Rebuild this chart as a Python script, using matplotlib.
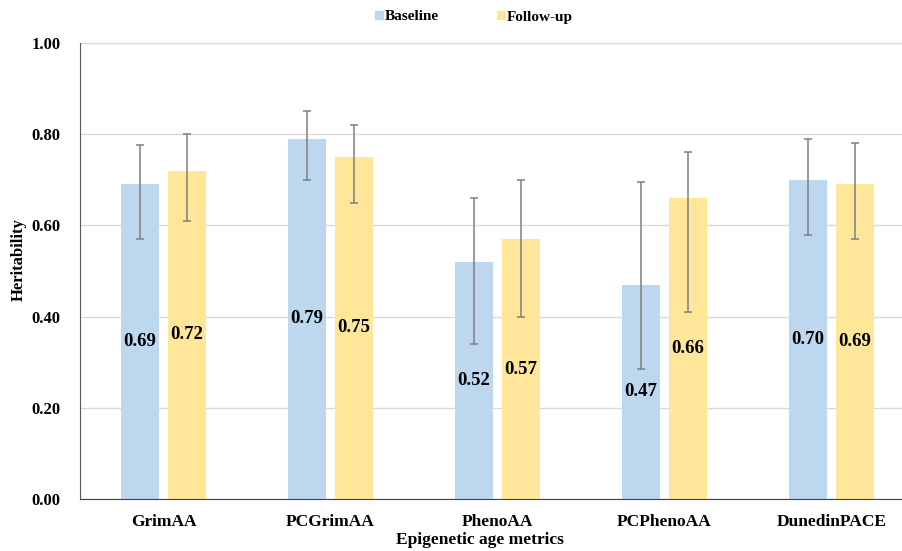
import matplotlib.pyplot as plt
import numpy as np
from matplotlib.patches import Patch

plt.rcParams["font.family"] = ["Liberation Serif", "DejaVu Serif"]
plt.rcParams["font.weight"] = "bold"

# Data
metrics = ["GrimAA", "PCGrimAA", "PhenoAA", "PCPhenoAA", "DunedinPACE"]
baseline = [0.69, 0.79, 0.52, 0.47, 0.70]
baseline_lo = [0.57, 0.70, 0.34, 0.285, 0.58]
baseline_hi = [0.777, 0.851, 0.66, 0.696, 0.79]
followup = [0.72, 0.75, 0.57, 0.66, 0.69]
followup_lo = [0.61, 0.65, 0.40, 0.41, 0.57]
followup_hi = [0.80, 0.82, 0.70, 0.76, 0.78]
yticks = [0.0, 0.2, 0.4, 0.6, 0.8, 1.0]

blue = "#BDD7EE"
yellow = "#FFE699"
err_color = "#7f7f7f"

fig = plt.figure(figsize=(9.03, 5.51), dpi=100)
# axes runs slightly past the right edge, like the cropped original
ax = fig.add_axes([80 / 903, 52 / 551, 835 / 903, 456 / 551])

x = np.arange(len(metrics))
width = 0.228
offset = 0.141

series = [
    (baseline, baseline_lo, baseline_hi, blue, -offset),
    (followup, followup_lo, followup_hi, yellow, offset),
]
for vals, lo, hi, color, dx in series:
    vals = np.array(vals)
    yerr = [vals - np.array(lo), np.array(hi) - vals]
    ax.bar(x + dx, vals, width, color=color, zorder=2)
    ax.errorbar(x + dx, vals, yerr=yerr, fmt="none", ecolor=err_color,
                elinewidth=1.1, capsize=3, capthick=1.1, zorder=3)
    for xi, v in zip(x + dx, vals):
        ax.text(xi, v / 2, f"{v:.2f}", ha="center", va="center",
                fontsize=13.5, fontweight="bold", zorder=4)

ax.set_xlim(-0.5, len(metrics) - 0.5)
ax.set_ylim(0, 1.0)
ax.set_yticks(yticks)
ax.set_yticklabels([f"{t:.2f}" for t in yticks], fontsize=12, fontweight="bold")
ax.set_xticks(x)
ax.set_xticklabels(metrics, fontsize=12.5, fontweight="bold")
ax.tick_params(axis="both", length=0)
ax.tick_params(axis="y", pad=14)
ax.tick_params(axis="x", pad=11)

ax.grid(axis="y", color="#d9d9d9", linewidth=1, zorder=0)
ax.set_axisbelow(True)
for side in ["top", "right"]:
    ax.spines[side].set_visible(False)
ax.spines["left"].set_color("#595959")
ax.spines["bottom"].set_color("#404040")

# axis titles are centred on the visible chart, not on the cropped axes
fig.text(480 / 903, 1 - 540 / 551, "Epigenetic age metrics", ha="center", va="center",
         fontsize=12.5, fontweight="bold")
fig.text(19 / 903, 1 - 260 / 551, "Heritability", ha="center", va="center",
         rotation=90, fontsize=12, fontweight="bold")

handles = [Patch(color=blue, label="Baseline"), Patch(color=yellow, label="Follow-up")]
fig.legend(handles=handles, loc="center", bbox_to_anchor=(474 / 903, 1 - 17 / 551),
           ncol=2, frameon=False, handlelength=0.5, handleheight=0.5,
           columnspacing=3.8, handletextpad=0.15, prop={"weight": "bold", "size": 11})

fig.savefig("out.png", dpi=100)
